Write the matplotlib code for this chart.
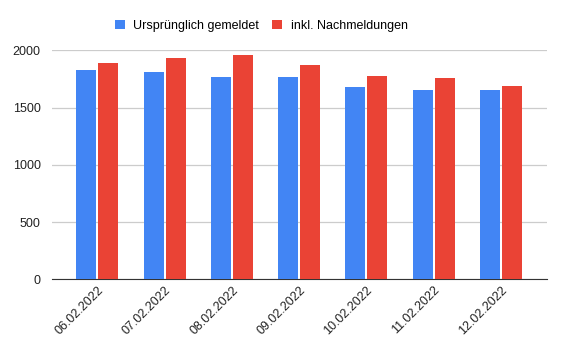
import numpy as np
import matplotlib
matplotlib.use("Agg")
import matplotlib.pyplot as plt

plt.rcParams.update({"font.family": ["Liberation Sans", "DejaVu Sans"], "font.size": 9})

dates = ["06.02.2022", "07.02.2022", "08.02.2022", "09.02.2022",
         "10.02.2022", "11.02.2022", "12.02.2022"]
original = [1828, 1810, 1767, 1767, 1679, 1653, 1653]
with_late = [1889, 1933, 1959, 1871, 1778, 1758, 1688]

BLUE = "#4285F4"
RED = "#EA4335"

fig = plt.figure(figsize=(5.64, 3.52), dpi=100)
ax = fig.add_axes([0.0917, 0.2065, 0.8775, 0.6505])

x = np.arange(len(dates))
w = 0.297
ax.bar(x - 0.163, original, width=w, color=BLUE, label="Ursprünglich gemeldet", zorder=3)
ax.bar(x + 0.163, with_late, width=w, color=RED, label="inkl. Nachmeldungen", zorder=3)

ax.set_xlim(-0.68, 6.68)
ax.set_ylim(0, 2000)
ax.set_yticks([0, 500, 1000, 1500, 2000])
ax.grid(axis="y", color="#cccccc", lw=0.9, zorder=0)
for s in ["top", "right", "left"]:
    ax.spines[s].set_visible(False)
ax.spines["bottom"].set_color("#333333")
ax.tick_params(axis="both", length=0, colors="#222222", labelsize=9)
ax.tick_params(axis="y", pad=8)
ax.set_xticks(x)
ax.set_xticklabels(dates, rotation=45, ha="right", rotation_mode="anchor")

fig.legend(loc="center", bbox_to_anchor=(0.463, 0.927), ncol=2, frameon=False,
           handlelength=0.8, handleheight=0.8, handletextpad=0.7, columnspacing=1.0,
           fontsize=9)

fig.savefig("out.png", dpi=100)
